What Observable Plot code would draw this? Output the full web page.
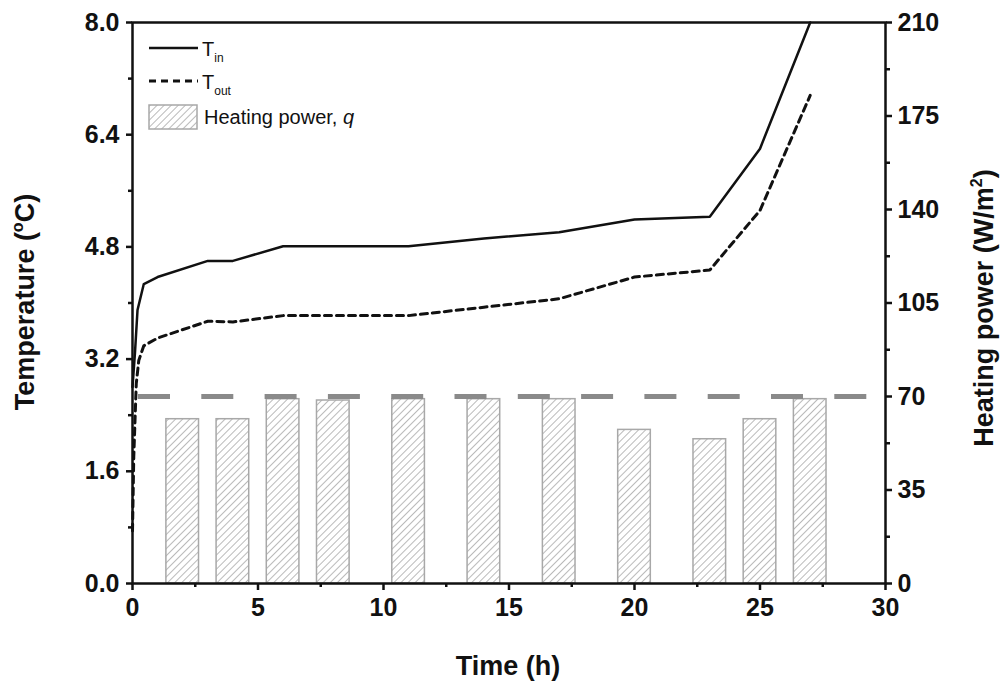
<!DOCTYPE html>
<html><head><meta charset="utf-8">
<script src="https://cdn.jsdelivr.net/npm/d3@7"></script>
<script src="https://cdn.jsdelivr.net/npm/@observablehq/plot@0.6"></script>
<style>
body{margin:0;background:#fff;}
svg{font-family:"Liberation Sans",Arial,sans-serif;}
</style>
</head><body><div id="chart"></div>
<script>
// ---- data ----
const tInTime   = [0, 0.1, 0.2, 0.45, 1, 3, 4, 6, 11, 14, 17, 20, 23, 25, 27];
const tInValue  = [2.8, 3.3, 3.9, 4.27, 4.37, 4.6, 4.6, 4.81, 4.81, 4.92, 5.01, 5.19, 5.23, 6.2, 8.0];
const tOutTime  = [0, 0.05, 0.15, 0.25, 0.45, 1, 3, 4, 6, 11, 14, 17, 20, 23, 25, 27];
const tOutValue = [0.75, 1.8, 2.85, 3.18, 3.39, 3.5, 3.74, 3.73, 3.82, 3.82, 3.94, 4.06, 4.37, 4.47, 5.32, 6.96];
const barTime   = [2, 4, 6, 8, 11, 14, 17, 20, 23, 25, 27];
const barPower  = [61.5, 61.5, 69, 68.5, 69, 69, 69, 57.5, 54, 61.5, 69];
const refPower  = [70];
const tempTicks  = [0, 1.6, 3.2, 4.8, 6.4, 8.0];
const tempMinor  = [0.8, 2.4, 4.0, 5.6, 7.2];
const powerTicks = [0, 35, 70, 105, 140, 175, 210];
const powerMinor = [17.5, 52.5, 87.5, 122.5, 157.5, 192.5];
const timeTicks  = [0, 5, 10, 15, 20, 25, 30];
const timeMinor  = [2.5, 7.5, 12.5, 17.5, 22.5, 27.5];

const k = 8 / 210; // W/m² -> °C axis mapping (right axis 0..210 on left axis 0..8)
const barHalf = 0.65;

const tIn  = tInTime.map((t, i) => ({t, v: tInValue[i]}));
const tOut = tOutTime.map((t, i) => ({t, v: tOutValue[i]}));
const bars = barTime.map((t, i) => ({t, q: barPower[i]}));

const FONT = '"Liberation Sans", Arial, sans-serif';
const ink = "#111";

const plot = Plot.plot({
  width: 1006, height: 688,
  marginLeft: 132, marginRight: 121, marginTop: 22, marginBottom: 105,
  style: {fontFamily: FONT, fontSize: "25px", fontWeight: "bold", color: ink, background: "#fff", overflow: "visible"},
  x: {domain: [0, 30]},
  y: {domain: [0, 8]},
  marks: [
    Plot.rectY(bars, {x1: d => d.t - barHalf, x2: d => d.t + barHalf, y1: 0, y2: d => d.q * k,
      fill: "url(#hatch)", stroke: "#a8a8a8", strokeWidth: 1.5}),
    Plot.ruleY(refPower, {y: d => d * k, stroke: "#8a8a8a", strokeWidth: 5,
      strokeDasharray: "32,31.3", strokeDashoffset: 57.3}),
    Plot.line(tIn, {x: "t", y: "v", stroke: ink, strokeWidth: 2.5}),
    Plot.line(tOut, {x: "t", y: "v", stroke: ink, strokeWidth: 3, strokeDasharray: "7,5"}),
    Plot.axisY({ticks: tempTicks, tickFormat: d => d.toFixed(1), tickSize: 6, tickPadding: 7, label: null, strokeWidth: 2.5}),
    Plot.axisY({ticks: tempMinor, tickSize: 4, text: null, label: null, strokeWidth: 2.5}),
    Plot.axisY({anchor: "right", ticks: powerTicks.map(v => v * k), tickFormat: v => String(Math.round(v / k)),
      tickSize: 6, tickPadding: 6, label: null, strokeWidth: 2.5}),
    Plot.axisY({anchor: "right", ticks: powerMinor.map(v => v * k), tickSize: 4, text: null, label: null, strokeWidth: 2.5}),
    Plot.axisX({ticks: timeTicks, tickFormat: d => String(d), tickSize: 7, tickPadding: 8, label: null, strokeWidth: 2.5}),
    Plot.axisX({ticks: timeMinor, tickSize: 4, text: null, label: null, strokeWidth: 2.5}),
    Plot.frame({stroke: ink, strokeWidth: 2.5})
  ]
});

const svg = d3.select(plot);
const defs = svg.insert("defs", ":first-child");
const pat = defs.append("pattern").attr("id", "hatch")
  .attr("patternUnits", "userSpaceOnUse").attr("width", 5).attr("height", 5)
  .attr("patternTransform", "rotate(45)");
pat.append("rect").attr("width", 5).attr("height", 5).attr("fill", "#fff");
pat.append("line").attr("x1", 0).attr("y1", 0).attr("x2", 0).attr("y2", 5)
  .attr("stroke", "#8c8c8c").attr("stroke-width", 1.2);

// axis titles
const titles = svg.append("g").attr("font-family", FONT).attr("font-weight", "bold").attr("font-size", 27).attr("fill", ink);
const lt = titles.append("text").attr("text-anchor", "middle").attr("transform", "translate(34,302) rotate(-90)");
lt.append("tspan").text("Temperature (");
lt.append("tspan").attr("font-size", 16).attr("dy", -11).text("o");
lt.append("tspan").attr("dy", 11).text("C)");
const rt = titles.append("text").attr("text-anchor", "middle").attr("transform", "translate(993,308) rotate(-90)");
rt.append("tspan").text("Heating power (W/m");
rt.append("tspan").attr("font-size", 16).attr("dy", -11).text("2");
rt.append("tspan").attr("dy", 11).text(")");
titles.append("text").attr("text-anchor", "middle").attr("x", 508).attr("y", 675).text("Time (h)");

// legend
const lg = svg.append("g").attr("font-family", FONT).attr("font-size", 20).attr("font-weight", "normal")
  .attr("text-anchor", "start").attr("fill", ink);
lg.append("line").attr("x1", 149).attr("x2", 198).attr("y1", 48).attr("y2", 48).attr("stroke", ink).attr("stroke-width", 2.5);
const l1 = lg.append("text").attr("x", 202).attr("y", 56);
l1.append("tspan").text("T");
l1.append("tspan").attr("font-size", 12).attr("dy", 6).text("in");
lg.append("line").attr("x1", 149).attr("x2", 198).attr("y1", 81).attr("y2", 81).attr("stroke", ink).attr("stroke-width", 3).attr("stroke-dasharray", "7,5");
const l2 = lg.append("text").attr("x", 202).attr("y", 89);
l2.append("tspan").text("T");
l2.append("tspan").attr("font-size", 12).attr("dy", 6).text("out");
lg.append("rect").attr("x", 149).attr("y", 105).attr("width", 48).attr("height", 24)
  .attr("fill", "url(#hatch)").attr("stroke", "#a8a8a8").attr("stroke-width", 1.5);
const l3 = lg.append("text").attr("x", 204).attr("y", 124);
l3.append("tspan").text("Heating power, ");
l3.append("tspan").attr("font-style", "italic").text("q");

document.getElementById("chart").appendChild(plot);
</script>
</body></html>
